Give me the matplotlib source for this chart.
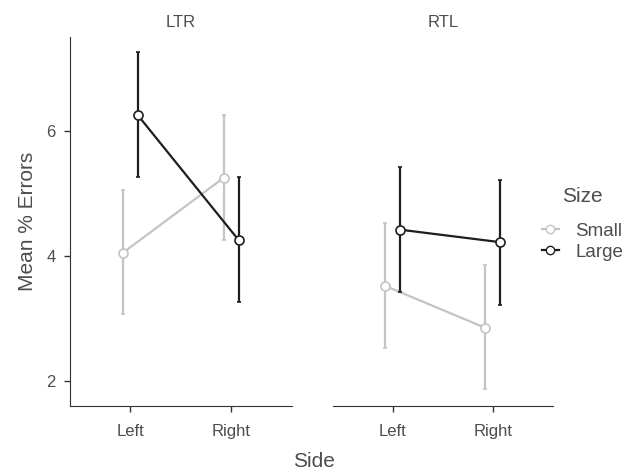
import matplotlib.pyplot as plt
from matplotlib.lines import Line2D

plt.rcParams['font.family'] = ['Liberation Sans', 'DejaVu Sans']

sides = ['Left', 'Right']
panels = ['LTR', 'RTL']
sizes = ['Small', 'Large']
colors = {'Small': '#c4c4c4', 'Large': '#1e1e1e'}

# mean, lower, upper per panel / size / side
means = {
    'LTR': {'Small': [4.05, 5.25], 'Large': [6.25, 4.25]},
    'RTL': {'Small': [3.52, 2.85], 'Large': [4.42, 4.22]},
}
lower = {
    'LTR': {'Small': [3.07, 4.26], 'Large': [5.27, 3.26]},
    'RTL': {'Small': [2.53, 1.87], 'Large': [3.42, 3.22]},
}
upper = {
    'LTR': {'Small': [5.06, 6.25], 'Large': [7.27, 5.27]},
    'RTL': {'Small': [4.53, 3.85], 'Large': [5.43, 5.22]},
}
dodge = {'Small': -0.075, 'Large': 0.075}

txt = '#4d4d4d'
fig = plt.figure(figsize=(6.4, 4.76), dpi=100)
ax1 = fig.add_axes([0.109, 0.147, 0.347, 0.775])
ax2 = fig.add_axes([0.520, 0.147, 0.344, 0.775])

for ax, p in zip([ax1, ax2], panels):
    for s in sizes:
        xs = [i + 1 + dodge[s] for i in range(len(sides))]
        m = means[p][s]
        yerr = [[m[i] - lower[p][s][i] for i in range(2)],
                [upper[p][s][i] - m[i] for i in range(2)]]
        ax.errorbar(xs, m, yerr=yerr, color=colors[s], lw=1.6,
                    capsize=1.2, capthick=1.6, marker='o', ms=6.5,
                    mfc='white', mec=colors[s], mew=1.2, zorder=3 if s == 'Large' else 2)
    ax.set_xlim(0.4, 2.6)
    ax.set_ylim(1.6, 7.5)
    ax.set_xticks([1, 2])
    ax.set_xticklabels(sides)
    ax.set_yticks([2, 4, 6])
    for sp in ['top', 'right']:
        ax.spines[sp].set_visible(False)
    ax.spines['bottom'].set_color('#333333')
    ax.spines['left'].set_color('#333333')
    ax.tick_params(colors='#333333', labelcolor=txt, labelsize=12, length=4, width=1)
    ax.tick_params(axis='x', pad=9)
    ax.tick_params(axis='y', pad=6)
    ax.set_title(p, fontsize=12, color=txt, pad=7)

ax2.spines['left'].set_visible(False)
ax2.tick_params(axis='y', left=False, labelleft=False)

ax1.set_ylabel('Mean % Errors', fontsize=15, color=txt, labelpad=7)
fig.text(0.49, 0.031, 'Side', fontsize=15, color=txt, ha='center', va='center')

handles = [Line2D([0], [0], color=colors[s], lw=1.6, marker='o', ms=6,
                  mfc='white', mec=colors[s]) for s in sizes]
leg = fig.legend(handles, sizes, title='Size', loc='center left',
                 bbox_to_anchor=(0.82, 0.53), frameon=False, fontsize=13.5,
                 title_fontsize=15, handlelength=0.9, handletextpad=0.9,
                 labelspacing=0.2, labelcolor=txt)
leg.get_title().set_color(txt)
leg._legend_box.sep = 12

fig.savefig('out.png', dpi=100)
